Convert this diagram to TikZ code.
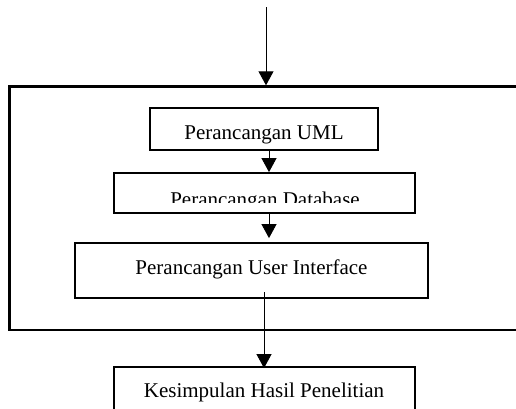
\documentclass[tikz,border=0pt]{standalone}
\usepackage{fontspec}
\setmainfont{Liberation Serif}
\usetikzlibrary{arrows.meta,calc}
\tikzset{
	box/.style={draw, line width=1.8pt, rectangle, inner sep=0pt, font=\fontsize{21}{25}\selectfont},
	flow/.style={line width=0.9pt, -{Triangle[width=15pt,length=14pt]}},
}

\begin{document}
\begin{tikzpicture}[x=1pt,y=-1pt]
		%%%%% START %%%%%
		\useasboundingbox (0,0) rectangle (516,408);
		\clip (0,0) rectangle (516,408);
		
		\node[box, line width=2.4pt, minimum width=520pt, minimum height=243.5pt] (frame) at (269.5,208.25) {};
		
		\node[box, minimum width=228pt, text height=31pt, text depth=11pt] (uml) at (264,129) {Perancangan UML};
		\node[box, minimum width=301pt, minimum height=40pt] (db) at (264.5,193) {};
		\node[box, minimum width=353pt, text height=31pt, text depth=24pt] (ui) at (251.5,270.5) {Perancangan User Interface};
		\node[box, minimum width=301pt, minimum height=70pt] (kes) at (264.5,402) {};
		
		% texts cut off at the bottom
		\begin{scope}
			\clip (114,173) rectangle (415,202);
			\node[anchor=base, font=\fontsize{21}{25}\selectfont] (dbtext) at (265,206) {Perancangan Database};
		\end{scope}
		\begin{scope}
			\clip (114,367) rectangle (415,401);
			\node[anchor=base, font=\fontsize{21}{25}\selectfont] (kestext) at (264,397) {Kesimpulan Hasil Penelitian};
		\end{scope}
		
		\coordinate (in) at (266,7);
		\coordinate (out) at (264,292);
		
		\draw[flow] (in) -- (in |- frame.north);
		\draw[flow] ([xshift=5pt]uml.south) -- ([xshift=5pt]uml.south |- db.north);
		\draw[flow, shorten >=4pt] ([xshift=4.5pt]db.south) -- ([xshift=4.5pt]db.south |- ui.north);
		\draw[flow, shorten >=-2pt] (out) -- (out |- kes.north);
		
		%%%%% END %%%%%
	\end{tikzpicture}
\end{document}
